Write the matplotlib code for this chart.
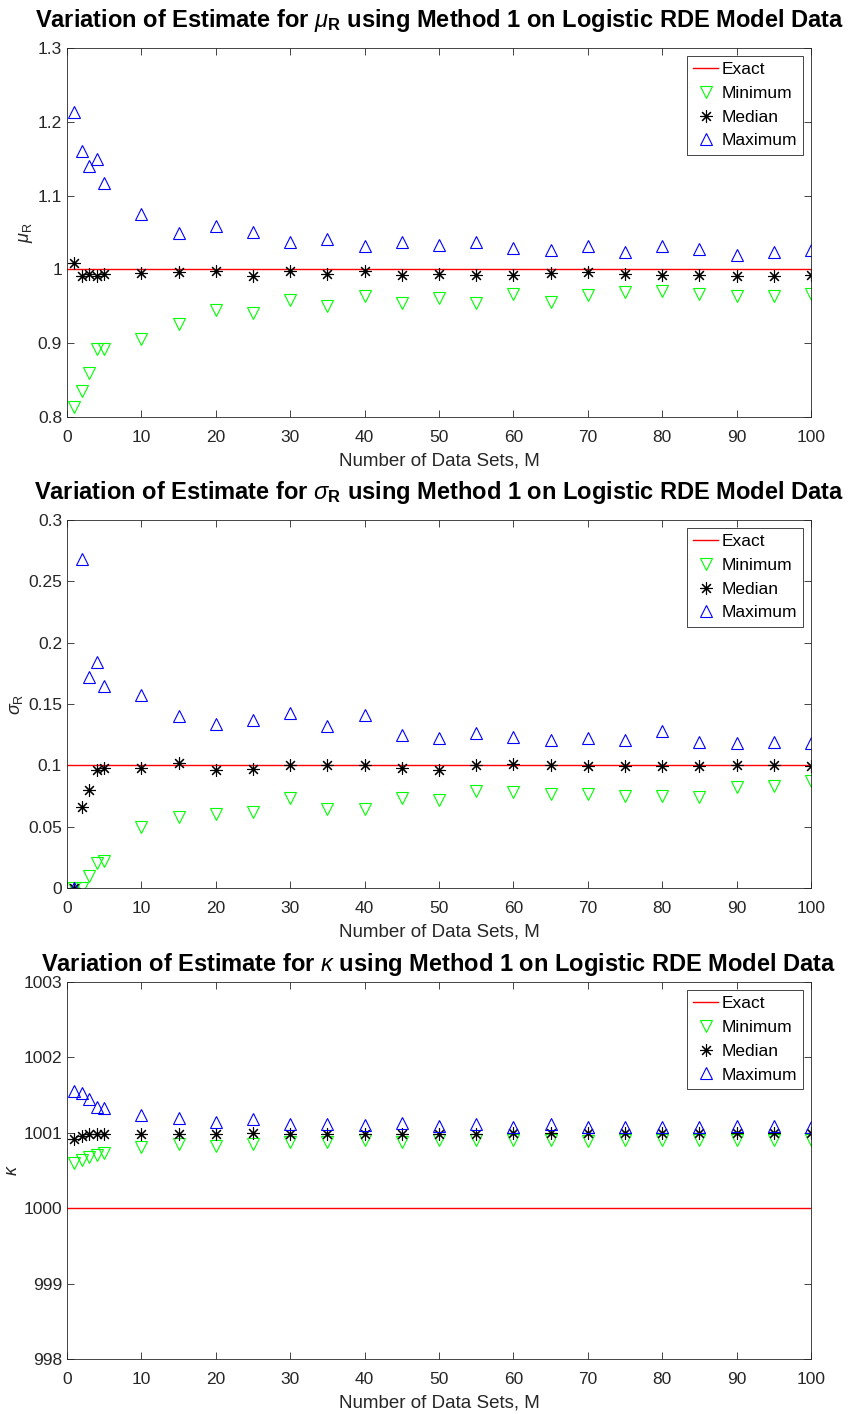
import numpy as np
import matplotlib
matplotlib.use("Agg")
import matplotlib.pyplot as plt

plt.rcParams['font.family'] = ['Liberation Sans', 'DejaVu Sans']
plt.rcParams['mathtext.fontset'] = 'custom'
plt.rcParams['mathtext.rm'] = 'Liberation Sans'
plt.rcParams['mathtext.it'] = 'Liberation Sans:italic'
plt.rcParams['mathtext.bf'] = 'Liberation Sans:bold'

# number of data sets
M = [1, 2, 3, 4, 5, 10, 15, 20, 25, 30, 35, 40, 45, 50, 55, 60, 65, 70, 75, 80, 85, 90, 95, 100]

# mu_R estimates
mu_exact = 1.0
mu_min = [0.814, 0.835, 0.860, 0.892, 0.892, 0.905, 0.926, 0.945, 0.941, 0.959, 0.950,
          0.964, 0.955, 0.961, 0.955, 0.967, 0.956, 0.965, 0.970, 0.971, 0.967, 0.964, 0.964, 0.967]
mu_med = [1.008, 0.991, 0.994, 0.991, 0.994, 0.995, 0.996, 0.998, 0.991, 0.998, 0.994,
          0.998, 0.993, 0.994, 0.993, 0.992, 0.995, 0.997, 0.994, 0.993, 0.992, 0.991, 0.991, 0.993]
mu_max = [1.213, 1.161, 1.140, 1.150, 1.117, 1.075, 1.049, 1.059, 1.051, 1.037, 1.041,
          1.031, 1.037, 1.033, 1.037, 1.029, 1.026, 1.031, 1.023, 1.031, 1.027, 1.020, 1.024, 1.026]

# sigma_R estimates
sig_exact = 0.1
sig_min = [0.0, 0.0, 0.010, 0.020, 0.022, 0.050, 0.058, 0.060, 0.062, 0.073, 0.064,
           0.064, 0.073, 0.072, 0.079, 0.078, 0.077, 0.077, 0.075, 0.075, 0.074, 0.082, 0.083, 0.087]
sig_med = [0.0, 0.066, 0.080, 0.096, 0.098, 0.098, 0.102, 0.096, 0.097, 0.100, 0.100,
           0.100, 0.098, 0.096, 0.100, 0.101, 0.100, 0.0995, 0.0995, 0.0995, 0.0995, 0.100, 0.100, 0.0995]
sig_max = [0.0, 0.268, 0.172, 0.184, 0.165, 0.157, 0.140, 0.134, 0.137, 0.143, 0.132,
           0.141, 0.125, 0.122, 0.126, 0.123, 0.121, 0.122, 0.121, 0.128, 0.119, 0.118, 0.119, 0.118]

# kappa estimates
kap_exact = 1000.0
kap_min = [1000.60, 1000.64, 1000.68, 1000.71, 1000.73, 1000.81, 1000.85, 1000.83, 1000.85, 1000.88, 1000.88,
           1000.90, 1000.88, 1000.90, 1000.90, 1000.90, 1000.90, 1000.89, 1000.90, 1000.91, 1000.90, 1000.91, 1000.90, 1000.91]
kap_med = [1000.92, 1000.96, 1000.99, 1000.99, 1000.99, 1000.99, 1000.99, 1000.99, 1001.00, 1000.99, 1000.99,
           1000.99, 1000.99, 1000.99, 1000.99, 1001.00, 1001.00, 1001.00, 1001.00, 1001.00, 1001.00, 1001.00, 1001.00, 1001.00]
kap_max = [1001.56, 1001.53, 1001.45, 1001.34, 1001.33, 1001.24, 1001.20, 1001.15, 1001.18, 1001.12, 1001.12,
           1001.10, 1001.13, 1001.09, 1001.12, 1001.08, 1001.12, 1001.08, 1001.08, 1001.08, 1001.08, 1001.09, 1001.09, 1001.08]

panels = [
    (r'Variation of Estimate for $\mu_\mathbf{R}$ using Method 1 on Logistic RDE Model Data',
     r'$\mu_\mathrm{R}$', mu_exact, mu_min, mu_med, mu_max, (0.8, 1.3), np.arange(0.8, 1.31, 0.1),
     ['0.8', '0.9', '1', '1.1', '1.2', '1.3'], 15),
    (r'Variation of Estimate for $\sigma_\mathbf{R}$ using Method 1 on Logistic RDE Model Data',
     r'$\sigma_\mathrm{R}$', sig_exact, sig_min, sig_med, sig_max, (0, 0.3), np.arange(0, 0.31, 0.05),
     ['0', '0.05', '0.1', '0.15', '0.2', '0.25', '0.3'], 15),
    (r'Variation of Estimate for $\kappa$ using Method 1 on Logistic RDE Model Data',
     r'$\kappa$', kap_exact, kap_min, kap_med, kap_max, (998, 1003), np.arange(998, 1004, 1),
     ['998', '999', '1000', '1001', '1002', '1003'], 8),
]

# axes rectangles [left, bottom, width, height]
rects = [[0.0787, 0.7051, 0.8743, 0.2610],
         [0.0787, 0.3720, 0.8743, 0.2603],
         [0.0787, 0.0389, 0.8743, 0.2666]]

fig = plt.figure(figsize=(8.51, 14.14), dpi=100)
axc = '#262626'
asterisk = (8, 2, 0)

for rect, (title, ylab, exact, vmin, vmed, vmax, ylim, yt, ytl, tpad) in zip(rects, panels):
    ax = fig.add_axes(rect)
    ax.plot([0, 100], [exact, exact], '-', color=(1, 0, 0), lw=1.0, label='Exact')
    ax.plot(M, vmin, 'v', mfc='none', mec=(0, 1, 0), ms=8.5, mew=0.8, label='Minimum', ls='none')
    ax.plot(M, vmed, marker=asterisk, color='black', ms=9, mew=0.8, label='Median', ls='none')
    ax.plot(M, vmax, '^', mfc='none', mec='blue', ms=8.5, mew=0.8, label='Maximum', ls='none')
    ax.set_xlim(0, 100)
    ax.set_ylim(*ylim)
    ax.set_xticks(range(0, 101, 10))
    ax.set_yticks(yt)
    ax.set_yticklabels(ytl)
    ax.tick_params(direction='in', top=True, right=True, labelsize=12.5, colors=axc,
                   length=5, width=0.6)
    ax.tick_params(axis='x', pad=9.5)
    ax.tick_params(axis='y', pad=3.5)
    for s in ax.spines.values():
        s.set_color(axc)
        s.set_linewidth(0.6)
    ax.set_title(title, fontsize=17, fontweight='bold', pad=tpad)
    ax.set_xlabel('Number of Data Sets, M', fontsize=13.5, color=axc, labelpad=5)
    ax.set_ylabel(ylab, fontsize=13, color=axc, labelpad=2)
    leg = ax.legend(loc='upper right', fontsize=12.5, fancybox=False, framealpha=1,
                    edgecolor=axc, borderaxespad=0.45, handlelength=1.45, handletextpad=0.2,
                    labelspacing=0.5, borderpad=0.35)
    leg.get_frame().set_linewidth(0.6)

fig.savefig('out.png', dpi=100)
